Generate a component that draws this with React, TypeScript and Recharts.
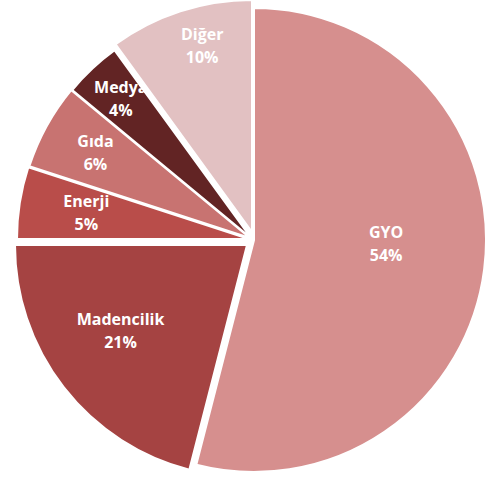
import React from "react";
import { PieChart, Pie, Cell } from "recharts";

const sectors = ["GYO", "Madencilik", "Enerji", "Gıda", "Medya", "Diğer"];
const shares = [54, 21, 5, 6, 4, 10];

const COLORS = ["#d68f8e", "#a54342", "#b94d4a", "#c87371", "#622424", "#e2c1c2"];
// exploded slices: pixel shift per slice
const SHIFT: [number, number][] = [[3, 2], [-4, 7], [-2, 1], [-1, 0], [0, 0], [1, -6]];
// label placement: fraction of radius, small angle tweak (deg)
const LABEL_POS: [number, number][] = [[0.57, 5.5], [0.66, -3.5], [0.71, 0], [0.76, 0], [0.82, 0], [0.83, -3]];

const data = sectors.map((name, i) => ({ name, value: shares[i] }));
const RADIAN = Math.PI / 180;
const CX = 251;
const CY = 238;

const makeLabel = (k: number) => (props: any) => {
  const { cx, cy, midAngle, outerRadius, index, name, percent } = props;
  if (index !== k) return <g />;
  const [frac, tweak] = LABEL_POS[index];
  const a = (midAngle + tweak) * RADIAN;
  const x = cx + frac * outerRadius * Math.cos(a);
  const y = cy - frac * outerRadius * Math.sin(a);
  return (
    <text
      x={x}
      y={y}
      fill="#fff"
      textAnchor="middle"
      fontFamily="'Open Sans', sans-serif"
      fontWeight="bold"
      fontSize={16}
    >
      <tspan x={x} dy={-6}>{name}</tspan>
      <tspan x={x} dy={23}>{`${Math.round(percent * 100)}%`}</tspan>
    </text>
  );
};

export default function App() {
  return (
    <div style={{ position: "absolute", left: 0, top: 0, background: "#fff" }}>
      <PieChart width={491} height={477} margin={{ top: 0, right: 0, bottom: 0, left: 0 }}>
        {sectors.map((_, k) => (
          <Pie
            key={`pie-${k}`}
            data={data}
            dataKey="value"
            nameKey="name"
            cx={CX + SHIFT[k][0]}
            cy={CY + SHIFT[k][1]}
            outerRadius={232}
            startAngle={90}
            endAngle={-270}
            label={makeLabel(k)}
            labelLine={false}
            isAnimationActive={false}
          >
            {data.map((entry, index) => (
              <Cell
                key={`cell-${index}`}
                fill={index === k ? COLORS[index] : "none"}
                stroke={index === k ? "#fff" : "none"}
                strokeWidth={2}
              />
            ))}
          </Pie>
        ))}
      </PieChart>
    </div>
  );
}
